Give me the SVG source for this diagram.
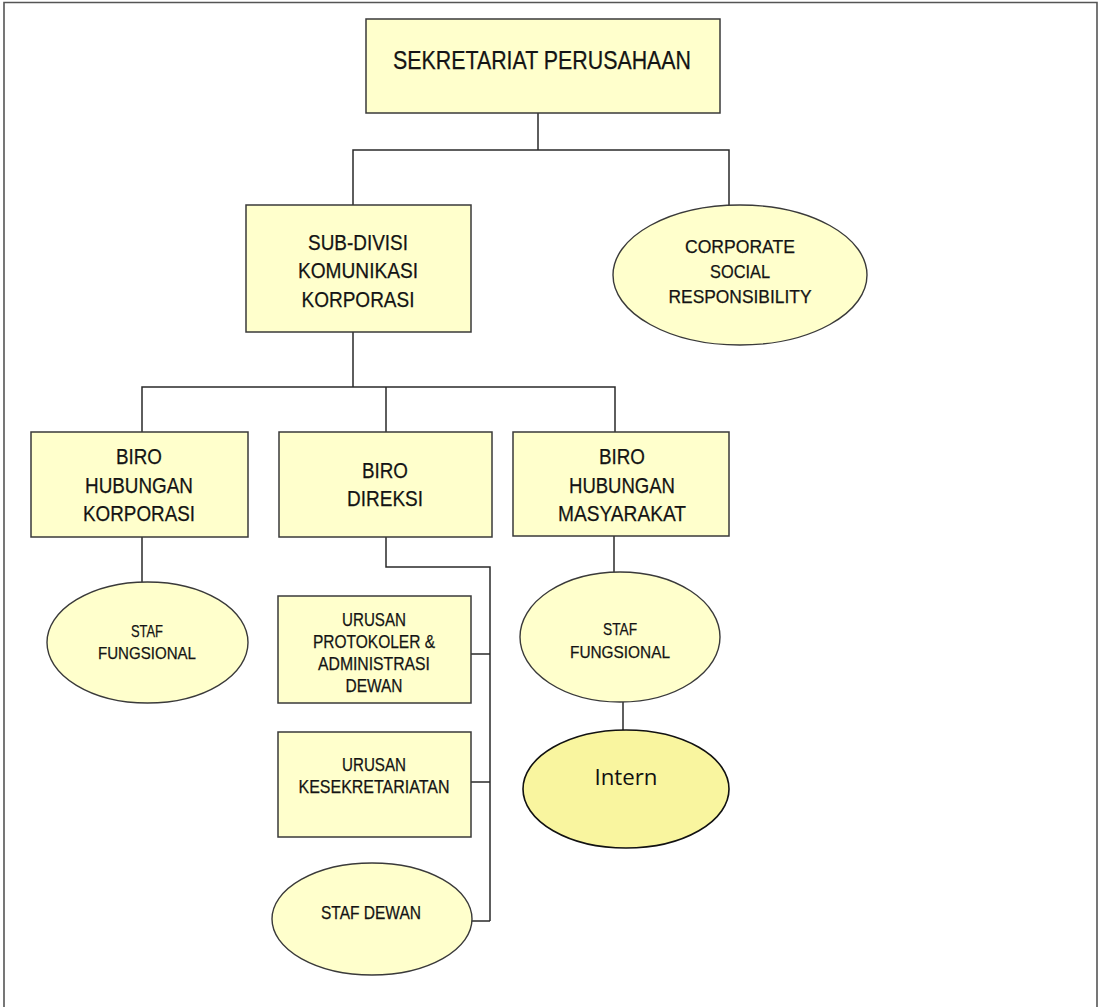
<svg xmlns="http://www.w3.org/2000/svg" width="1099" height="1007" viewBox="0 0 1099 1007">
<style>
.box{fill:#ffffcc;stroke:#3a3a3a;stroke-width:1.5}
.ell{fill:#ffffcc;stroke:#3a3a3a;stroke-width:1.4}
.conn{fill:none;stroke:#2a2a2a;stroke-width:1.5}
.t{font-family:"Liberation Sans",Arial,sans-serif;fill:#141414;stroke:#141414;stroke-width:0.25;text-anchor:middle}
.lg{font-size:25px}
.md{font-size:22px}
.sm{font-size:18px}
.xs{font-size:17px}
</style>
<rect width="1099" height="1007" fill="#ffffff"/>
<g id="frame">
<path d="M4 1007 V2.5 H1097 V1007" fill="none" stroke="#555" stroke-width="1.6"/>
</g>
<g id="connectors">
<path class="conn" d="M538 113 V150 M353 205 V150 H729 V205"/>
<path class="conn" d="M353 332 V387 M142 432 V387 H615 V432 M386 387 V432"/>
<path class="conn" d="M142 537 V582"/>
<path class="conn" d="M614 536 V572"/>
<path class="conn" d="M623 702 V730"/>
<path class="conn" d="M386 537 V567 H490 V921 M471 654 H490 M471 782 H490 M470 921 H490"/>
</g>
<g id="sekretariat">
<rect class="box" x="366" y="19" width="354" height="94"/>
<text class="t lg" x="542" y="69" textLength="298" lengthAdjust="spacingAndGlyphs">SEKRETARIAT PERUSAHAAN</text>
</g>
<g id="subdivisi">
<rect class="box" x="246" y="205" width="225" height="127"/>
<text class="t md" x="358" y="250" textLength="100" lengthAdjust="spacingAndGlyphs">SUB-DIVISI</text>
<text class="t md" x="358" y="278" textLength="120" lengthAdjust="spacingAndGlyphs">KOMUNIKASI</text>
<text class="t md" x="358" y="307" textLength="113" lengthAdjust="spacingAndGlyphs">KORPORASI</text>
</g>
<g id="csr">
<ellipse class="ell" cx="740" cy="275" rx="127" ry="70"/>
<text class="t sm" x="740" y="253" textLength="110" lengthAdjust="spacingAndGlyphs">CORPORATE</text>
<text class="t sm" x="740" y="278" textLength="60" lengthAdjust="spacingAndGlyphs">SOCIAL</text>
<text class="t sm" x="740" y="303" textLength="143" lengthAdjust="spacingAndGlyphs">RESPONSIBILITY</text>
</g>
<g id="biro-hk">
<rect class="box" x="31" y="432" width="217" height="105"/>
<text class="t md" x="139" y="464" textLength="46" lengthAdjust="spacingAndGlyphs">BIRO</text>
<text class="t md" x="139" y="493" textLength="108" lengthAdjust="spacingAndGlyphs">HUBUNGAN</text>
<text class="t md" x="139" y="521" textLength="112" lengthAdjust="spacingAndGlyphs">KORPORASI</text>
</g>
<g id="biro-direksi">
<rect class="box" x="279" y="432" width="213" height="105"/>
<text class="t md" x="385" y="478" textLength="46" lengthAdjust="spacingAndGlyphs">BIRO</text>
<text class="t md" x="385" y="506" textLength="76" lengthAdjust="spacingAndGlyphs">DIREKSI</text>
</g>
<g id="biro-hm">
<rect class="box" x="513" y="432" width="216" height="104"/>
<text class="t md" x="622" y="464" textLength="46" lengthAdjust="spacingAndGlyphs">BIRO</text>
<text class="t md" x="622" y="493" textLength="106" lengthAdjust="spacingAndGlyphs">HUBUNGAN</text>
<text class="t md" x="622" y="521" textLength="128" lengthAdjust="spacingAndGlyphs">MASYARAKAT</text>
</g>
<g id="staf-fungsional-1">
<ellipse class="ell" cx="147.5" cy="642.5" rx="100.5" ry="60.5"/>
<text class="t xs" x="147" y="637" textLength="32" lengthAdjust="spacingAndGlyphs">STAF</text>
<text class="t xs" x="147" y="659" textLength="98" lengthAdjust="spacingAndGlyphs">FUNGSIONAL</text>
</g>
<g id="staf-fungsional-2">
<ellipse class="ell" cx="620" cy="637" rx="100" ry="65"/>
<text class="t xs" x="620" y="635" textLength="34" lengthAdjust="spacingAndGlyphs">STAF</text>
<text class="t xs" x="620" y="658" textLength="100" lengthAdjust="spacingAndGlyphs">FUNGSIONAL</text>
</g>
<g id="intern">
<ellipse cx="626" cy="789" rx="103" ry="59" fill="#f9f59f" stroke="#111" stroke-width="1.6"/>
<text x="626" y="785" font-family="'Open Sans','Liberation Sans',sans-serif" font-size="21" fill="#111" text-anchor="middle" textLength="63" lengthAdjust="spacingAndGlyphs">Intern</text>
</g>
<g id="urusan-protokoler">
<rect class="box" x="278" y="596" width="193" height="107"/>
<text class="t sm" x="374" y="626" textLength="64" lengthAdjust="spacingAndGlyphs">URUSAN</text>
<text class="t sm" x="374" y="648" textLength="122" lengthAdjust="spacingAndGlyphs">PROTOKOLER &amp;</text>
<text class="t sm" x="374" y="670" textLength="112" lengthAdjust="spacingAndGlyphs">ADMINISTRASI</text>
<text class="t sm" x="374" y="692" textLength="57" lengthAdjust="spacingAndGlyphs">DEWAN</text>
</g>
<g id="urusan-kesekretariatan">
<rect class="box" x="278" y="732" width="193" height="105"/>
<text class="t sm" x="374" y="771" textLength="64" lengthAdjust="spacingAndGlyphs">URUSAN</text>
<text class="t sm" x="374" y="793" textLength="151" lengthAdjust="spacingAndGlyphs">KESEKRETARIATAN</text>
</g>
<g id="staf-dewan">
<ellipse class="ell" cx="372" cy="919" rx="100" ry="56"/>
<text class="t sm" x="371" y="919" textLength="100" lengthAdjust="spacingAndGlyphs">STAF DEWAN</text>
</g>
</svg>
